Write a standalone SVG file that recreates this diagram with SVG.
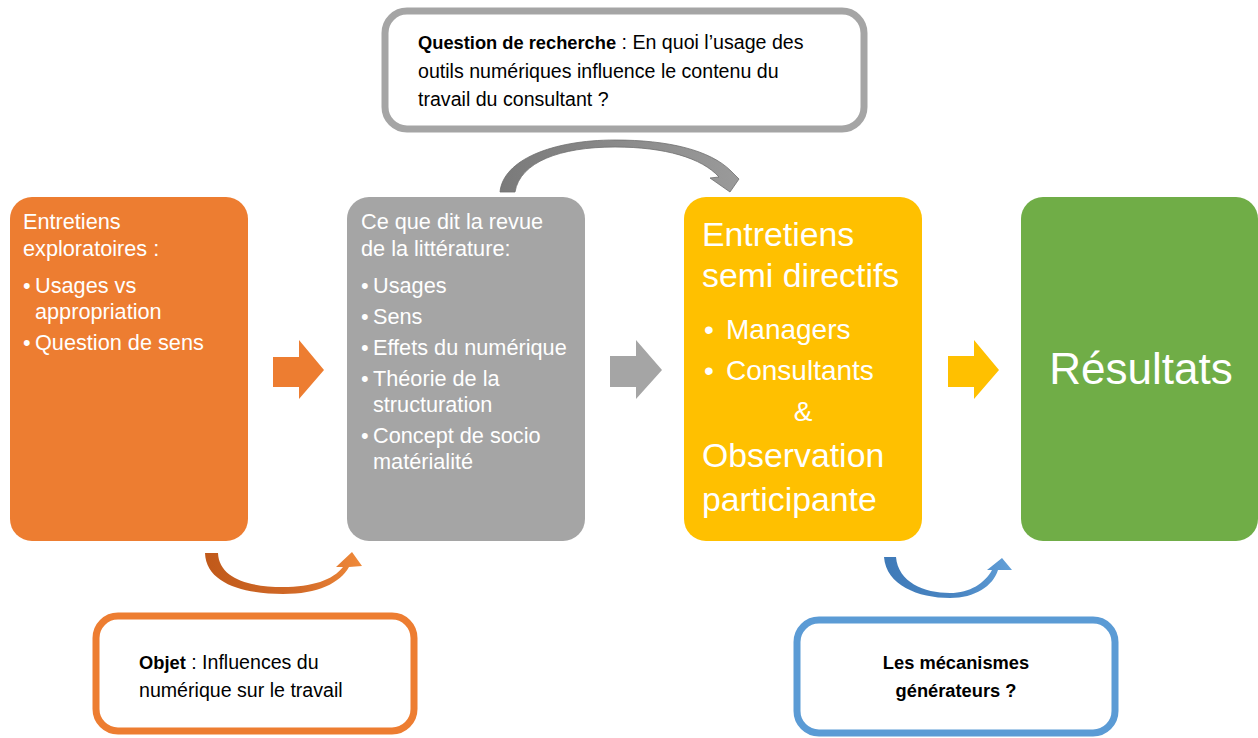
<svg xmlns="http://www.w3.org/2000/svg" width="1258" height="738" viewBox="0 0 1258 738">
<style>
text{font-family:"Liberation Sans",Arial,sans-serif;}
.w{fill:#ffffff;}
.k{fill:#000000;font-size:19.6px;}
.b{font-weight:bold;font-size:18.3px;}
.s1{font-size:21.7px;}
.s2{font-size:21.7px;}
.s3{font-size:33.8px;}
.s3b{font-size:28px;}
.callout{fill:#ffffff;stroke-width:7;}
</style>
<defs>
<linearGradient id="gGray" x1="0" y1="0" x2="1" y2="0">
<stop offset="0" stop-color="#7a7a7a"/><stop offset="1" stop-color="#9a9a9a"/>
</linearGradient>
<linearGradient id="gOrange" x1="0" y1="0" x2="1" y2="0">
<stop offset="0" stop-color="#c0591a"/><stop offset="0.6" stop-color="#d26a28"/><stop offset="1" stop-color="#f08a3a"/>
</linearGradient>
<linearGradient id="gBlue" x1="0" y1="0" x2="1" y2="0">
<stop offset="0" stop-color="#3f7ab8"/><stop offset="0.6" stop-color="#4a86c3"/><stop offset="1" stop-color="#63a0d8"/>
</linearGradient>
</defs>

<g id="question">
<rect class="callout" x="385" y="11" width="479" height="118" rx="22" stroke="#a5a5a5"/>
<text class="k" x="418" y="49"><tspan class="b">Question de recherche</tspan> : En quoi l’usage des</text>
<text class="k" x="418" y="78">outils numériques influence le contenu du</text>
<text class="k" x="418" y="106">travail du consultant ?</text>
</g>

<g id="exploratoires">
<rect x="10" y="197" width="238" height="344" rx="22" fill="#ed7d31"/>
<text class="w s1" x="23" y="229">Entretiens</text>
<text class="w s1" x="23" y="256">exploratoires :</text>
<text class="w s1" x="23" y="293">•</text><text class="w s1" x="35" y="293">Usages vs</text>
<text class="w s1" x="35" y="319">appropriation</text>
<text class="w s1" x="23" y="350">•</text><text class="w s1" x="35" y="350">Question de sens</text>
</g>

<g id="litterature">
<rect x="347" y="197" width="238" height="344" rx="22" fill="#a5a5a5"/>
<text class="w s2" x="361" y="229">Ce que dit la revue</text>
<text class="w s2" x="361" y="256">de la littérature:</text>
<text class="w s2" x="361" y="293">•</text><text class="w s2" x="373" y="293">Usages</text>
<text class="w s2" x="361" y="324">•</text><text class="w s2" x="373" y="324">Sens</text>
<text class="w s2" x="361" y="355">•</text><text class="w s2" x="373" y="355">Effets du numérique</text>
<text class="w s2" x="361" y="386">•</text><text class="w s2" x="373" y="386">Théorie de la</text>
<text class="w s2" x="373" y="412">structuration</text>
<text class="w s2" x="361" y="443">•</text><text class="w s2" x="373" y="443">Concept de socio</text>
<text class="w s2" x="373" y="469">matérialité</text>
</g>

<g id="semidirectifs">
<rect x="684" y="197" width="238" height="344" rx="22" fill="#ffc000"/>
<text class="w s3" x="702" y="246">Entretiens</text>
<text class="w s3" x="702" y="287">semi directifs</text>
<text class="w s3b" x="704" y="339">•</text><text class="w s3b" x="726" y="339">Managers</text>
<text class="w s3b" x="704" y="380">•</text><text class="w s3b" x="726" y="380">Consultants</text>
<text class="w s3b" x="803" y="421" text-anchor="middle">&amp;</text>
<text class="w s3" x="702" y="467">Observation</text>
<text class="w s3" x="702" y="511">participante</text>
</g>

<g id="resultats">
<rect x="1021" y="197" width="237" height="344" rx="22" fill="#70ad47"/>
<text class="w" x="1141" y="384" text-anchor="middle" font-size="44">Résultats</text>
</g>

<g id="objet">
<rect class="callout" x="96" y="616" width="318" height="115" rx="22" stroke="#ed7d31"/>
<text class="k" x="139" y="669"><tspan class="b">Objet</tspan> : Influences du</text>
<text class="k" x="139" y="697">numérique sur le travail</text>
</g>

<g id="mecanismes">
<rect class="callout" x="797" y="620" width="318" height="113" rx="22" stroke="#5b9bd5"/>
<text class="k b" x="956" y="669" text-anchor="middle">Les mécanismes</text>
<text class="k b" x="956" y="697" text-anchor="middle">générateurs ?</text>
</g>

<g id="connectors">
<polygon points="273,357 299,357 299,340 324,370 299,399 299,387 273,387" fill="#ed7d31"/>
<polygon points="610,356 636,356 636,340 662,370 636,399 636,387 610,387" fill="#a5a5a5"/>
<polygon points="948,356 974,356 974,340 999,370 974,399 974,387 948,387" fill="#ffc000"/>
<path d="M500,192 C503,160 552,140 615,140 C668,140 710,150 731,171 L739,179 L730,192 L710,178 L719,177 C702,158 665,147 615,147 C560,147 520,162 515,192 Z" fill="url(#gGray)" stroke="#6f6f6f" stroke-width="0.8"/>
<path d="M205,553 C206,584 245,594 283,594 C318,594 340,583 349,567 L362,566 L352,552 L336,567 L343,567 C333,580 312,587 283,587 C248,587 219,578 218,553 Z" fill="url(#gOrange)"/>
<path d="M884,557 C886,585 918,598 950,598 C975,598 993,586 998,570 L1012,570 L1002,558 L987,570 L992,570 C985,583 970,593 950,593 C924,593 898,582 896,557 Z" fill="url(#gBlue)"/>
</g>
</svg>
